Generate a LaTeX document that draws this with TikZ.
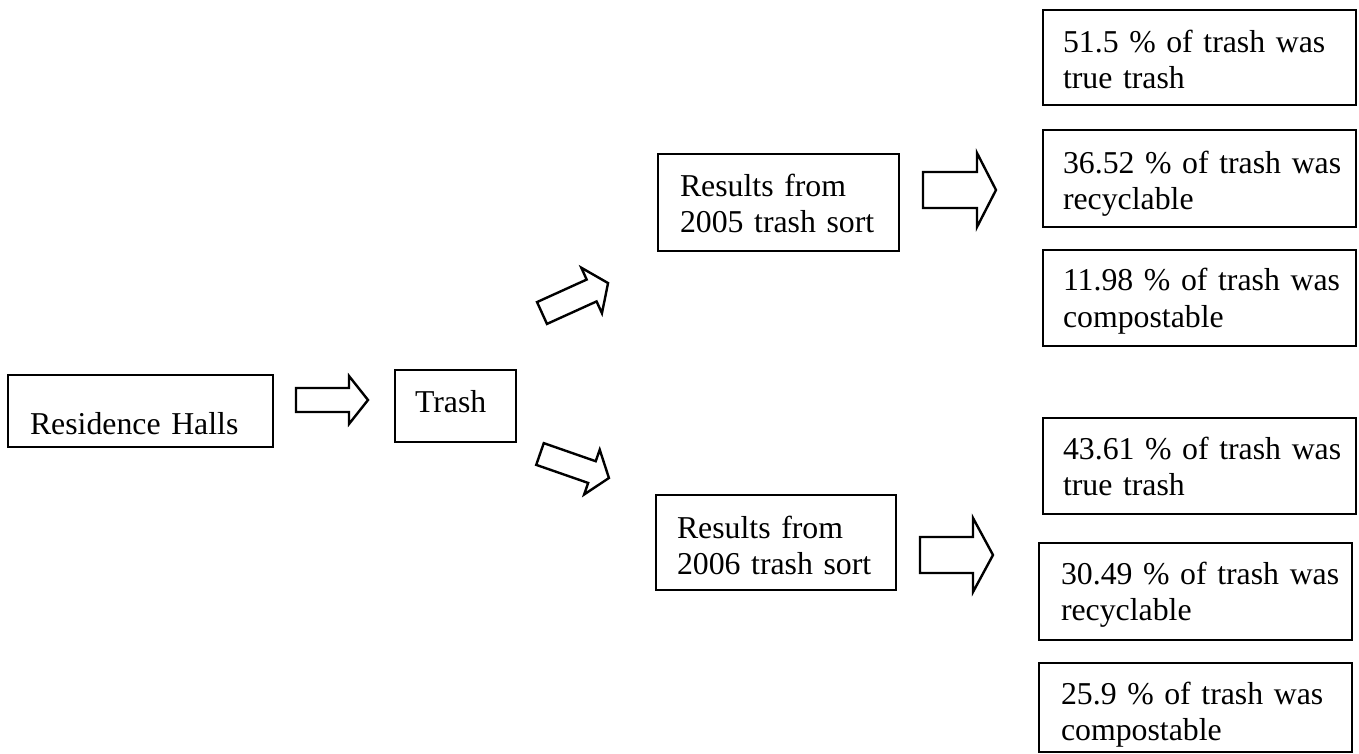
\documentclass[tikz,border=0pt]{standalone}
\usepackage{fontspec}
\setmainfont{Liberation Serif}
\newcommand\txtinset[1]{\hspace*{#1}}
% block arrow: #1 tail coordinate, #2 angle, #3 shaft length, #4 total length, #5 half shaft width, #6 half head width (all pt)
\newcommand\blockarr[6]{%
  \draw[barrow, shift={(#1)}, rotate=#2]
    (0pt,-#5pt) -- (#3pt,-#5pt) -- (#3pt,-#6pt) -- (#4pt,0pt) -- (#3pt,#6pt) -- (#3pt,#5pt) -- (0pt,#5pt) -- cycle;}
\begin{document}
\begin{tikzpicture}[x=0.5pt,y=-0.5pt,
  box/.style={draw, line width=1.2pt, anchor=north west, inner sep=0pt, outer sep=0pt,
    align=left, font=\fontsize{15.9}{18}\selectfont},
  barrow/.style={draw, line width=1.2pt, line join=miter, fill=white}]
\useasboundingbox (0,0) rectangle (1359,754);

% boxes
\node[box, text width=132.5pt, text height=29.5pt, text depth=6.5pt] (rh) at (8,375)
  {\txtinset{11pt}Residence Halls};
\node[box, text width=60.5pt, text height=21pt, text depth=15pt] (trash) at (395,370)
  {\txtinset{10pt}Trash};
\node[box, text width=120.5pt, text height=21.5pt, text depth=27pt] (r05) at (658,154)
  {\txtinset{11pt}Results from\\\txtinset{11pt}2005 trash sort};
\node[box, text width=120pt, text height=21.5pt, text depth=26pt] (r06) at (656,495)
  {\txtinset{10.5pt}Results from\\\txtinset{10.5pt}2006 trash sort};

\node[box, text width=156.5pt, text height=21.5pt, text depth=26pt] (a) at (1043,10)
  {\txtinset{10pt}51.5 \% of trash was\\\txtinset{10pt}true trash};
\node[box, text width=156.5pt, text height=22pt, text depth=26.5pt] (b) at (1043,130)
  {\txtinset{10pt}36.52 \% of trash was\\\txtinset{10pt}recyclable};
\node[box, text width=156.5pt, text height=20.5pt, text depth=27.5pt] (c) at (1043,250)
  {\txtinset{10pt}11.98 \% of trash was\\\txtinset{10pt}compostable};

\node[box, text width=156.5pt, text height=20.5pt, text depth=27.5pt] (d) at (1043,418)
  {\txtinset{10pt}43.61 \% of trash was\\\txtinset{10pt}true trash};
\node[box, text width=156.5pt, text height=20.5pt, text depth=28pt] (e) at (1039,543)
  {\txtinset{11pt}30.49 \% of trash was\\\txtinset{11pt}recyclable};
\node[box, text width=156.5pt, text height=20.5pt, text depth=24pt] (f) at (1039,663)
  {\txtinset{11pt}25.9 \% of trash was\\\txtinset{11pt}compostable};

% block arrows
\coordinate (t1) at (296,400);
\coordinate (t2) at (542,313);
\coordinate (t3) at (540,454);
\coordinate (t4) at (923,190);
\coordinate (t5) at (920,555);
\blockarr{t1}{0}{26.5}{36}{6}{12}
\blockarr{t2}{24.4}{27.25}{36.25}{6}{12.5}
\blockarr{t3}{-19.2}{27.5}{36.5}{5.75}{11.85}
\blockarr{t4}{0}{27}{36.5}{9}{18.5}
\blockarr{t5}{0}{26.5}{36.5}{9}{18.5}
\end{tikzpicture}
\end{document}
